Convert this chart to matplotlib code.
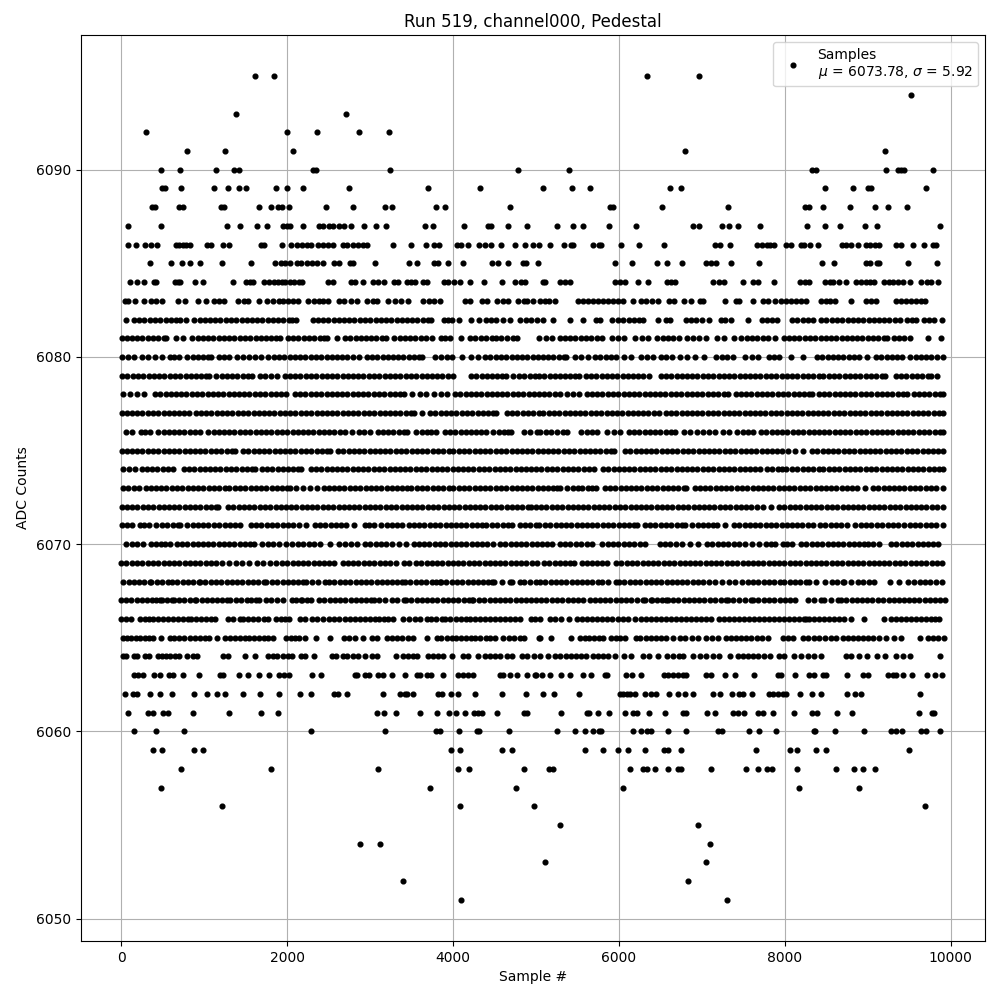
import matplotlib
matplotlib.use('Agg')
import matplotlib.pyplot as plt

# sample numbers, one list per ADC count
s6095 = [1614, 1843, 6337, 6963]
s6094 = [9515]
s6093 = [1384, 2712]
s6092 = [298, 2000, 2362, 2869, 3231]
s6091 = [793, 1251, 2072, 6794, 9202]
s6090 = [479, 708, 1143, 1360, 1420, 2314, 2346, 3243, 4777, 5398, 8323, 8375, 9214, 9362, 9398, 9434, 9791]
s6089 = [491, 527, 720, 1119, 1288, 1420, 1505, 1867, 2000, 2193, 2748, 3702, 4330, 5085, 5434, 5651, 6614, 6746, 8479, 8816, 8997, 9033, 9695]
s6088 = [370, 406, 696, 744, 1203, 1239, 1662, 1807, 1891, 1940, 2024, 2471, 2797, 3183, 3268, 3799, 3907, 4692, 5892, 5928, 6518, 7312, 8239, 8287, 8455, 8780, 9081, 9238, 9467]
s6087 = [80, 479, 1276, 1433, 1638, 1758, 1952, 2000, 2036, 2193, 2386, 2435, 2507, 2555, 2628, 2688, 2773, 2929, 3074, 3195, 3666, 3762, 4137, 4426, 4462, 4668, 4897, 5254, 5446, 5567, 5880, 6205, 6895, 6963, 7240, 7324, 7432, 7697, 8263, 8479, 8659, 8961, 9105, 9875]
s6086 = [80, 181, 286, 358, 431, 664, 700, 740, 785, 825, 1034, 1086, 1227, 1300, 1686, 1718, 1940, 2048, 2121, 2181, 2241, 2290, 2374, 2435, 2495, 2555, 2676, 2724, 2797, 2857, 2917, 2966, 3280, 3497, 3678, 3775, 3835, 4052, 4092, 4185, 4318, 4390, 4459, 4583, 4752, 4873, 4958, 5030, 5170, 5338, 5422, 5446, 5687, 5759, 5783, 6024, 6241, 6542, 7155, 7216, 7336, 7661, 7721, 7781, 7821, 7866, 8010, 8074, 8190, 8227, 8307, 8395, 8684, 8736, 8796, 8877, 8973, 9021, 9081, 9129, 9334, 9394, 9539, 9671, 9791, 9827]
s6085 = [342, 600, 732, 829, 950, 1215, 1565, 1855, 1928, 1976, 2036, 2121, 2169, 2241, 2302, 2362, 2435, 2563, 2628, 2760, 2797, 3062, 3473, 3569, 3775, 3823, 3944, 4125, 4475, 4547, 4668, 4837, 4885, 5018, 5952, 6156, 6457, 6578, 6758, 7047, 7107, 7167, 7348, 7685, 8443, 8588, 8973, 9021, 9105, 9129, 9478, 9839]
s6084 = [105, 189, 274, 394, 418, 648, 684, 708, 889, 986, 1348, 1505, 1553, 1590, 1722, 1783, 1843, 1891, 1940, 1976, 2036, 2084, 2145, 2181, 2495, 2555, 2773, 2821, 2917, 3038, 3098, 3171, 3292, 3340, 3449, 3497, 3545, 3642, 3690, 3895, 3944, 4016, 4088, 4209, 4378, 4595, 4752, 4813, 4873, 5085, 5109, 5290, 5350, 5410, 5952, 6012, 6072, 6229, 6349, 6578, 6626, 6674, 7131, 7204, 7264, 7492, 7612, 7673, 7866, 8178, 8239, 8287, 8479, 8540, 8576, 8648, 8732, 8852, 8913, 8973, 9021, 9069, 9189, 9250, 9298, 9358, 9418, 9502, 9635, 9707, 9767, 9851]
s6083 = [40, 80, 165, 274, 358, 419, 491, 684, 764, 926, 1022, 1118, 1179, 1239, 1408, 1481, 1529, 1662, 1759, 1831, 1903, 1952, 2012, 2072, 2133, 2253, 2326, 2386, 2435, 2495, 2628, 2688, 2773, 2845, 2958, 3038, 3086, 3219, 3300, 3372, 3461, 3642, 3714, 3775, 3847, 4149, 4209, 4354, 4414, 4535, 4607, 4668, 4788, 4849, 4897, 4958, 5045, 5105, 5157, 5230, 5507, 5567, 5627, 5687, 5747, 5807, 5868, 5928, 5988, 6048, 6168, 6269, 6329, 6401, 6469, 6602, 6658, 6782, 6867, 6979, 7011, 7276, 7412, 7452, 7613, 7741, 7793, 7882, 7954, 8014, 8074, 8134, 8195, 8255, 8435, 8495, 8548, 8608, 8800, 8977, 9037, 9097, 9338, 9398, 9458, 9519, 9579, 9639, 9687]
s6082 = [52, 153, 215, 280, 345, 405, 470, 535, 595, 660, 704, 785, 881, 945, 1005, 1070, 1130, 1195, 1260, 1320, 1385, 1450, 1510, 1575, 1640, 1700, 1765, 1830, 1890, 1955, 2020, 2060, 2105, 2306, 2370, 2430, 2495, 2560, 2620, 2685, 2750, 2810, 2875, 2940, 3000, 3065, 3130, 3190, 3255, 3320, 3380, 3445, 3510, 3570, 3635, 3700, 3730, 3887, 3940, 3992, 4072, 4217, 4314, 4398, 4460, 4515, 4600, 4684, 4809, 4880, 4945, 5010, 5081, 5206, 5406, 5567, 5719, 5767, 5920, 5985, 6050, 6115, 6175, 6240, 6289, 6469, 6570, 6618, 6802, 6865, 6930, 7000, 7091, 7232, 7280, 7352, 7553, 7725, 7790, 7845, 7902, 8086, 8150, 8215, 8275, 8335, 8439, 8500, 8565, 8630, 8690, 8755, 8820, 8880, 8945, 9010, 9070, 9135, 9200, 9260, 9325, 9386, 9470, 9530, 9578, 9671, 9735, 9800, 9888]
s6081 = [4, 65, 130, 195, 255, 320, 385, 445, 510, 539, 656, 740, 857, 920, 985, 1050, 1110, 1175, 1240, 1300, 1365, 1430, 1490, 1555, 1620, 1680, 1745, 1810, 1870, 1919, 2008, 2070, 2135, 2200, 2260, 2325, 2390, 2450, 2483, 2596, 2696, 2760, 2825, 2885, 2950, 3015, 3075, 3140, 3187, 3292, 3355, 3420, 3480, 3545, 3610, 3670, 3750, 3851, 3905, 3964, 4092, 4209, 4270, 4340, 4400, 4465, 4520, 4575, 4648, 4720, 4768, 5030, 5117, 5194, 5286, 5350, 5410, 5475, 5540, 5600, 5665, 5730, 5795, 5912, 5985, 6056, 6193, 6281, 6345, 6461, 6525, 6590, 6655, 6718, 6822, 6890, 6960, 7051, 7180, 7260, 7384, 7476, 7540, 7605, 7665, 7730, 7795, 7882, 7986, 8050, 8115, 8175, 8240, 8305, 8365, 8430, 8495, 8555, 8620, 8685, 8745, 8810, 8875, 8935, 9000, 9065, 9125, 9190, 9226, 9310, 9375, 9440, 9507, 9727, 9880]
s6080 = [12, 80, 149, 245, 325, 402, 495, 583, 640, 696, 797, 860, 925, 990, 1050, 1082, 1179, 1240, 1296, 1400, 1470, 1545, 1618, 1690, 1775, 1840, 1905, 1965, 2030, 2095, 2155, 2220, 2285, 2345, 2410, 2475, 2535, 2600, 2665, 2725, 2790, 2865, 2958, 3020, 3085, 3150, 3210, 3275, 3340, 3400, 3465, 3530, 3590, 3630, 3787, 3860, 3925, 3992, 4112, 4217, 4306, 4390, 4450, 4515, 4580, 4640, 4705, 4770, 4830, 4895, 4960, 5020, 5085, 5150, 5210, 5275, 5340, 5366, 5466, 5545, 5627, 5711, 5775, 5840, 5905, 5968, 6060, 6148, 6261, 6337, 6409, 6501, 6570, 6640, 6730, 6822, 6919, 7019, 7172, 7240, 7305, 7372, 7525, 7600, 7681, 7813, 7870, 7930, 8078, 8219, 8387, 8450, 8515, 8580, 8640, 8705, 8770, 8830, 8895, 8985, 9097, 9160, 9225, 9290, 9355, 9406, 9511, 9575, 9640, 9700, 9765, 9830, 9908]
s6079 = [12, 75, 140, 205, 265, 330, 395, 455, 520, 585, 645, 710, 775, 835, 900, 965, 1025, 1054, 1147, 1210, 1275, 1340, 1400, 1465, 1525, 1577, 1670, 1735, 1800, 1879, 1972, 2035, 2100, 2160, 2225, 2290, 2350, 2415, 2480, 2540, 2605, 2670, 2730, 2795, 2860, 2920, 2985, 3050, 3110, 3175, 3240, 3300, 3365, 3430, 3490, 3555, 3620, 3680, 3745, 3810, 3870, 3935, 4004, 4217, 4280, 4345, 4405, 4470, 4535, 4595, 4636, 4728, 4800, 4860, 4925, 4990, 5040, 5100, 5165, 5225, 5290, 5355, 5415, 5470, 5515, 5599, 5665, 5725, 5790, 5855, 5915, 5980, 6045, 6105, 6170, 6235, 6295, 6357, 6501, 6565, 6630, 6695, 6755, 6820, 6885, 6945, 7010, 7075, 7135, 7200, 7265, 7325, 7390, 7455, 7515, 7580, 7645, 7705, 7770, 7835, 7895, 7960, 8025, 8085, 8150, 8215, 8275, 8340, 8405, 8465, 8530, 8595, 8655, 8720, 8785, 8845, 8910, 8975, 9035, 9100, 9165, 9206, 9338, 9400, 9465, 9530, 9590, 9655, 9720, 9767, 9839]
s6078 = [20, 101, 185, 270, 406, 470, 535, 595, 660, 725, 785, 850, 915, 975, 1040, 1105, 1165, 1230, 1295, 1355, 1420, 1485, 1545, 1610, 1675, 1735, 1800, 1865, 1925, 1992, 2092, 2155, 2220, 2285, 2345, 2410, 2475, 2535, 2600, 2665, 2725, 2790, 2855, 2915, 2980, 3045, 3105, 3170, 3235, 3295, 3360, 3408, 3509, 3605, 3678, 3775, 3850, 3931, 4024, 4085, 4150, 4215, 4275, 4340, 4405, 4465, 4530, 4595, 4655, 4720, 4785, 4845, 4910, 4975, 5035, 5095, 5160, 5225, 5294, 5378, 5450, 5518, 5611, 5675, 5740, 5800, 5865, 5930, 5990, 6055, 6120, 6180, 6245, 6310, 6370, 6435, 6500, 6560, 6625, 6690, 6750, 6815, 6880, 6940, 7005, 7070, 7130, 7195, 7260, 7320, 7412, 7476, 7528, 7597, 7660, 7725, 7790, 7850, 7915, 7980, 8040, 8105, 8170, 8230, 8295, 8323, 8407, 8470, 8535, 8600, 8660, 8725, 8790, 8850, 8915, 8980, 9040, 9105, 9170, 9230, 9295, 9360, 9420, 9466, 9551, 9615, 9680, 9740, 9805, 9870, 9908]
s6077 = [4, 65, 130, 190, 255, 320, 380, 445, 510, 570, 635, 700, 760, 813, 897, 960, 1025, 1085, 1150, 1215, 1275, 1340, 1405, 1465, 1530, 1595, 1655, 1720, 1785, 1845, 1910, 1975, 2035, 2100, 2165, 2225, 2290, 2355, 2415, 2480, 2545, 2605, 2670, 2735, 2795, 2860, 2925, 2985, 3050, 3115, 3175, 3240, 3305, 3365, 3430, 3495, 3529, 3626, 3722, 3785, 3850, 3915, 3975, 4040, 4105, 4165, 4230, 4295, 4355, 4420, 4485, 4515, 4648, 4710, 4775, 4840, 4900, 4965, 5030, 5090, 5155, 5215, 5280, 5345, 5405, 5470, 5535, 5595, 5660, 5725, 5785, 5850, 5915, 5975, 6040, 6105, 6165, 6230, 6295, 6355, 6420, 6477, 6562, 6625, 6690, 6755, 6815, 6880, 6945, 7005, 7070, 7135, 7195, 7260, 7325, 7385, 7450, 7515, 7575, 7640, 7705, 7765, 7830, 7895, 7955, 8020, 8085, 8145, 8210, 8275, 8335, 8400, 8465, 8525, 8590, 8655, 8715, 8780, 8845, 8905, 8970, 9035, 9095, 9160, 9225, 9285, 9350, 9415, 9475, 9540, 9605, 9665, 9730, 9795, 9855, 9908]
s6076 = [52, 129, 233, 290, 342, 447, 510, 570, 635, 700, 760, 825, 890, 954, 1050, 1115, 1175, 1240, 1305, 1365, 1430, 1495, 1555, 1620, 1685, 1745, 1810, 1875, 1935, 2000, 2065, 2125, 2190, 2255, 2315, 2380, 2445, 2505, 2570, 2635, 2695, 2785, 2869, 2926, 2998, 3090, 3155, 3215, 3280, 3345, 3405, 3449, 3553, 3620, 3680, 3735, 3791, 3899, 3960, 4025, 4090, 4150, 4215, 4280, 4340, 4394, 4487, 4550, 4610, 4660, 4704, 4861, 4930, 5010, 5053, 5115, 5180, 5250, 5320, 5374, 5547, 5610, 5675, 5735, 5860, 5940, 6016, 6120, 6185, 6245, 6310, 6375, 6435, 6500, 6565, 6625, 6678, 6782, 6850, 6939, 7015, 7090, 7160, 7252, 7332, 7424, 7492, 7550, 7612, 7713, 7775, 7840, 7905, 7965, 8030, 8095, 8155, 8220, 8285, 8345, 8410, 8475, 8535, 8600, 8665, 8725, 8790, 8855, 8915, 8980, 9045, 9105, 9170, 9235, 9295, 9360, 9425, 9485, 9550, 9615, 9675, 9740, 9805, 9865, 9908]
s6075 = [4, 65, 130, 195, 255, 320, 385, 445, 510, 575, 635, 700, 765, 825, 890, 955, 1015, 1080, 1145, 1205, 1270, 1335, 1376, 1469, 1530, 1595, 1660, 1720, 1785, 1850, 1910, 1975, 2040, 2100, 2165, 2230, 2290, 2355, 2420, 2480, 2515, 2611, 2675, 2740, 2805, 2865, 2930, 2995, 3055, 3120, 3185, 3245, 3310, 3375, 3435, 3500, 3565, 3625, 3690, 3755, 3815, 3880, 3945, 4005, 4070, 4135, 4195, 4260, 4325, 4385, 4450, 4515, 4575, 4640, 4705, 4765, 4830, 4895, 4955, 5020, 5080, 5145, 5205, 5270, 5335, 5395, 5460, 5525, 5585, 5650, 5715, 5775, 5840, 5905, 5944, 6072, 6135, 6200, 6260, 6325, 6390, 6450, 6515, 6580, 6640, 6705, 6770, 6830, 6895, 6960, 7020, 7085, 7150, 7210, 7275, 7340, 7400, 7465, 7530, 7590, 7655, 7720, 7780, 7845, 7910, 7970, 8035, 8122, 8219, 8327, 8390, 8455, 8520, 8580, 8645, 8710, 8770, 8835, 8900, 8960, 9025, 9090, 9150, 9215, 9280, 9340, 9405, 9470, 9530, 9595, 9660, 9720, 9785, 9850, 9908]
s6074 = [20, 90, 165, 245, 310, 375, 435, 500, 560, 620, 753, 815, 880, 945, 1005, 1070, 1135, 1195, 1260, 1325, 1385, 1450, 1515, 1575, 1618, 1694, 1755, 1820, 1885, 1945, 2010, 2075, 2130, 2169, 2282, 2345, 2410, 2475, 2535, 2600, 2665, 2725, 2790, 2855, 2915, 2980, 3045, 3105, 3170, 3235, 3295, 3360, 3425, 3485, 3550, 3615, 3675, 3740, 3805, 3865, 3930, 3995, 4055, 4120, 4185, 4245, 4310, 4375, 4435, 4500, 4565, 4625, 4690, 4755, 4815, 4880, 4945, 5005, 5065, 5130, 5195, 5255, 5320, 5385, 5445, 5510, 5575, 5635, 5700, 5807, 5870, 5935, 5995, 6060, 6125, 6185, 6250, 6315, 6375, 6440, 6505, 6565, 6630, 6695, 6755, 6820, 6885, 6945, 7010, 7075, 7135, 7200, 7265, 7325, 7390, 7455, 7515, 7580, 7645, 7701, 7785, 7842, 7918, 7965, 8014, 8086, 8150, 8215, 8275, 8340, 8405, 8465, 8530, 8595, 8655, 8720, 8785, 8845, 8910, 8975, 9035, 9100, 9165, 9225, 9290, 9355, 9415, 9480, 9545, 9605, 9670, 9735, 9795, 9860, 9908]
s6073 = [24, 85, 150, 217, 294, 355, 420, 485, 545, 610, 675, 735, 800, 865, 925, 990, 1055, 1115, 1180, 1245, 1305, 1370, 1435, 1495, 1560, 1625, 1685, 1750, 1815, 1875, 1940, 2000, 2040, 2105, 2197, 2280, 2362, 2439, 2500, 2565, 2630, 2690, 2755, 2820, 2880, 2945, 3010, 3070, 3135, 3200, 3260, 3325, 3390, 3450, 3489, 3565, 3625, 3690, 3755, 3815, 3880, 3945, 4005, 4070, 4135, 4195, 4260, 4325, 4385, 4450, 4515, 4575, 4640, 4705, 4765, 4830, 4895, 4955, 5020, 5080, 5145, 5205, 5250, 5294, 5378, 5440, 5500, 5560, 5625, 5680, 5727, 5828, 5890, 5955, 6020, 6080, 6145, 6210, 6270, 6335, 6400, 6460, 6525, 6590, 6650, 6715, 6780, 6810, 6911, 6975, 7040, 7100, 7165, 7230, 7290, 7355, 7420, 7480, 7545, 7610, 7670, 7735, 7800, 7860, 7925, 7990, 8050, 8115, 8180, 8240, 8305, 8370, 8430, 8495, 8560, 8620, 8685, 8750, 8810, 8875, 8965, 9061, 9125, 9190, 9250, 9315, 9380, 9440, 9505, 9570, 9630, 9695, 9760, 9820, 9908]
s6072 = [4, 68, 130, 195, 260, 320, 385, 450, 510, 575, 640, 700, 765, 830, 890, 955, 1020, 1085, 1145, 1167, 1288, 1350, 1415, 1480, 1540, 1605, 1670, 1730, 1795, 1860, 1920, 1985, 2050, 2110, 2175, 2240, 2300, 2365, 2430, 2490, 2555, 2620, 2680, 2745, 2810, 2870, 2935, 3000, 3060, 3125, 3190, 3250, 3315, 3380, 3440, 3505, 3570, 3630, 3695, 3760, 3820, 3885, 3950, 4010, 4075, 4140, 4200, 4265, 4330, 4390, 4455, 4520, 4580, 4645, 4710, 4770, 4835, 4900, 4937, 4998, 5060, 5125, 5190, 5250, 5315, 5380, 5440, 5505, 5570, 5630, 5695, 5760, 5820, 5885, 5950, 6010, 6075, 6140, 6200, 6265, 6330, 6390, 6455, 6520, 6580, 6645, 6710, 6770, 6835, 6900, 6960, 7025, 7090, 7150, 7215, 7280, 7340, 7405, 7470, 7530, 7595, 7660, 7741, 7833, 7934, 7995, 8060, 8125, 8185, 8250, 8315, 8375, 8440, 8505, 8565, 8630, 8695, 8755, 8820, 8885, 8945, 9010, 9075, 9135, 9200, 9265, 9325, 9390, 9455, 9515, 9580, 9645, 9705, 9770, 9835, 9908]
s6071 = [4, 65, 129, 221, 280, 338, 423, 490, 555, 620, 680, 712, 797, 860, 925, 990, 1050, 1115, 1180, 1245, 1310, 1375, 1437, 1561, 1625, 1690, 1755, 1815, 1880, 1945, 2010, 2075, 2141, 2233, 2330, 2395, 2460, 2525, 2590, 2650, 2715, 2805, 2938, 2990, 3046, 3131, 3200, 3260, 3325, 3388, 3465, 3530, 3590, 3655, 3720, 3780, 3845, 3910, 3970, 4035, 4100, 4160, 4225, 4290, 4350, 4394, 4471, 4535, 4600, 4660, 4716, 4801, 4865, 4930, 4995, 5040, 5109, 5170, 5235, 5300, 5360, 5425, 5490, 5550, 5615, 5680, 5740, 5805, 5870, 5930, 5995, 6060, 6120, 6185, 6217, 6313, 6375, 6440, 6505, 6565, 6630, 6695, 6755, 6790, 6879, 6951, 7010, 7075, 7130, 7180, 7272, 7388, 7450, 7515, 7580, 7640, 7705, 7770, 7830, 7895, 7960, 8020, 8085, 8150, 8210, 8275, 8340, 8420, 8485, 8550, 8615, 8680, 8745, 8850, 8915, 8980, 9040, 9110, 9175, 9240, 9300, 9360, 9440, 9505, 9570, 9630, 9695, 9760, 9820, 9908]
s6070 = [60, 125, 195, 262, 354, 415, 480, 530, 583, 668, 730, 795, 860, 920, 985, 1050, 1110, 1175, 1240, 1300, 1365, 1430, 1490, 1555, 1598, 1702, 1765, 1835, 1899, 1992, 2060, 2130, 2195, 2260, 2322, 2394, 2519, 2628, 2700, 2770, 2845, 2938, 3000, 3065, 3130, 3195, 3265, 3348, 3432, 3525, 3590, 3655, 3715, 3780, 3845, 3905, 3970, 4035, 4095, 4160, 4225, 4285, 4350, 4414, 4487, 4567, 4630, 4695, 4760, 4820, 4885, 4950, 5010, 5070, 5130, 5194, 5286, 5350, 5415, 5480, 5545, 5610, 5675, 5800, 5865, 5930, 5990, 6055, 6120, 6185, 6250, 6317, 6489, 6555, 6620, 6690, 6758, 6855, 6951, 7063, 7125, 7190, 7255, 7320, 7385, 7450, 7520, 7601, 7685, 7773, 7830, 7882, 7974, 8030, 8082, 8198, 8260, 8325, 8390, 8450, 8515, 8580, 8640, 8705, 8770, 8830, 8895, 8955, 9005, 9065, 9137, 9282, 9345, 9410, 9475, 9535, 9600, 9665, 9725, 9790, 9840]
s6069 = [0, 62, 125, 190, 255, 318, 380, 445, 510, 572, 635, 700, 765, 828, 890, 955, 1020, 1085, 1145, 1210, 1295, 1388, 1460, 1537, 1634, 1710, 1790, 1871, 1935, 2000, 2065, 2125, 2190, 2255, 2320, 2380, 2445, 2505, 2563, 2668, 2730, 2795, 2860, 2925, 2990, 3050, 3115, 3180, 3245, 3308, 3412, 3469, 3553, 3615, 3680, 3745, 3810, 3870, 3935, 4000, 4060, 4125, 4190, 4250, 4315, 4380, 4440, 4505, 4570, 4630, 4695, 4760, 4820, 4885, 4950, 5010, 5097, 5160, 5225, 5290, 5350, 5405, 5454, 5551, 5615, 5680, 5740, 5800, 5856, 5968, 6030, 6095, 6160, 6220, 6285, 6350, 6410, 6475, 6540, 6600, 6665, 6730, 6790, 6855, 6920, 6980, 7045, 7110, 7170, 7235, 7300, 7360, 7425, 7490, 7550, 7615, 7680, 7740, 7805, 7870, 7930, 7995, 8060, 8120, 8185, 8250, 8310, 8375, 8440, 8500, 8565, 8630, 8690, 8755, 8820, 8880, 8945, 9010, 9070, 9135, 9200, 9260, 9325, 9390, 9450, 9515, 9580, 9640, 9705, 9770, 9830, 9888]
s6068 = [20, 89, 150, 215, 280, 342, 362, 430, 495, 563, 612, 675, 740, 805, 870, 938, 954, 1015, 1080, 1145, 1205, 1270, 1335, 1395, 1460, 1525, 1585, 1650, 1718, 1750, 1815, 1880, 1945, 2005, 2070, 2135, 2195, 2233, 2294, 2375, 2455, 2507, 2570, 2635, 2700, 2760, 2825, 2890, 2950, 3015, 3080, 3140, 3205, 3265, 3320, 3380, 3420, 3485, 3550, 3610, 3675, 3740, 3800, 3843, 3855, 3920, 3985, 4045, 4110, 4175, 4235, 4300, 4365, 4420, 4467, 4495, 4590, 4688, 4708, 4809, 4849, 4925, 5000, 5050, 5110, 5175, 5240, 5300, 5365, 5430, 5490, 5555, 5620, 5680, 5745, 5800, 5870, 5960, 6000, 6065, 6130, 6195, 6255, 6320, 6385, 6445, 6510, 6575, 6635, 6700, 6765, 6825, 6890, 6955, 7015, 7080, 7163, 7240, 7324, 7400, 7484, 7553, 7615, 7680, 7745, 7805, 7870, 7935, 7995, 8060, 8125, 8185, 8250, 8295, 8375, 8487, 8564, 8630, 8696, 8716, 8800, 8880, 8945, 9010, 9077, 9270, 9375, 9478, 9559, 9625, 9690, 9755, 9820, 9892]
s6067 = [2, 60, 122, 185, 248, 310, 372, 425, 471, 495, 555, 616, 632, 695, 760, 825, 885, 905, 968, 1030, 1095, 1160, 1220, 1276, 1316, 1380, 1445, 1510, 1570, 1622, 1662, 1750, 1807, 1880, 1952, 2064, 2110, 2161, 2185, 2240, 2290, 2386, 2450, 2512, 2575, 2640, 2700, 2765, 2830, 2890, 2950, 3006, 3046, 3110, 3185, 3259, 3320, 3408, 3432, 3495, 3560, 3620, 3685, 3750, 3810, 3875, 3940, 4000, 4065, 4130, 4190, 4225, 4245, 4310, 4375, 4440, 4500, 4565, 4630, 4690, 4755, 4820, 4880, 4945, 5000, 5060, 5125, 5190, 5250, 5315, 5380, 5440, 5505, 5570, 5647, 5707, 5770, 5835, 5895, 5960, 6025, 6085, 6150, 6215, 6289, 6309, 6389, 6401, 6460, 6515, 6570, 6590, 6650, 6715, 6780, 6840, 6905, 6970, 7030, 7095, 7160, 7225, 7292, 7312, 7380, 7450, 7520, 7593, 7613, 7680, 7745, 7810, 7870, 7935, 8000, 8060, 8126, 8275, 8355, 8435, 8475, 8555, 8636, 8676, 8740, 8805, 8865, 8930, 8995, 9055, 9117, 9185, 9250, 9315, 9375, 9440, 9500, 9559, 9619, 9685, 9750, 9810, 9870, 9932]
s6066 = [0, 60, 121, 229, 290, 335, 382, 443, 505, 560, 620, 680, 745, 805, 845, 905, 965, 1025, 1080, 1131, 1288, 1345, 1429, 1469, 1530, 1590, 1650, 1715, 1771, 1863, 1920, 1975, 2020, 2153, 2220, 2294, 2362, 2435, 2500, 2565, 2630, 2696, 2756, 2815, 2875, 2935, 2995, 3055, 3110, 3165, 3219, 3280, 3392, 3470, 3541, 3602, 3682, 3730, 3800, 3863, 3903, 3965, 4030, 4095, 4155, 4210, 4265, 4326, 4390, 4450, 4510, 4570, 4630, 4690, 4750, 4809, 4937, 4990, 5050, 5166, 5230, 5306, 5398, 5495, 5555, 5615, 5675, 5740, 5800, 5860, 5920, 5985, 6050, 6108, 6188, 6269, 6330, 6390, 6450, 6510, 6570, 6630, 6690, 6750, 6810, 6870, 6930, 6990, 7050, 7111, 7204, 7265, 7325, 7385, 7445, 7505, 7565, 7625, 7685, 7745, 7805, 7865, 7925, 7985, 8045, 8105, 8165, 8225, 8255, 8295, 8355, 8415, 8475, 8535, 8595, 8655, 8716, 8796, 8949, 9198, 9278, 9338, 9398, 9460, 9520, 9580, 9640, 9700, 9760, 9810, 9860]
s6065 = [20, 70, 118, 175, 230, 285, 340, 382, 479, 583, 640, 695, 760, 825, 885, 945, 1005, 1058, 1155, 1247, 1308, 1368, 1430, 1489, 1541, 1600, 1660, 1720, 1775, 1831, 1992, 2045, 2092, 2145, 2213, 2346, 2519, 2684, 2748, 2821, 2917, 3018, 3086, 3199, 3260, 3320, 3390, 3455, 3521, 3690, 3803, 3860, 3925, 3984, 4036, 4090, 4150, 4215, 4270, 4330, 4395, 4450, 4507, 4607, 4670, 4740, 4809, 4861, 5030, 5045, 5182, 5422, 5527, 5585, 5640, 5700, 5755, 5807, 5900, 5960, 6015, 6068, 6200, 6258, 6320, 6385, 6445, 6510, 6570, 6650, 6738, 6800, 6880, 6951, 7051, 7120, 7192, 7292, 7350, 7410, 7470, 7533, 7593, 7660, 7725, 7793, 7974, 8035, 8094, 8215, 8280, 8345, 8415, 8480, 8550, 8616, 8696, 8760, 8820, 8880, 8937, 8997, 9060, 9140, 9218, 9318, 9398, 9631, 9719, 9785, 9850, 9920]
s6064 = [20, 52, 149, 189, 282, 334, 443, 491, 543, 592, 644, 696, 793, 865, 913, 1227, 1288, 1493, 1614, 1771, 1831, 1879, 1952, 2012, 2060, 2169, 2217, 2322, 2543, 2587, 2676, 2724, 2797, 2857, 2938, 3018, 3078, 3316, 3400, 3461, 3521, 3569, 3702, 3762, 3823, 3883, 3992, 4125, 4185, 4306, 4386, 4447, 4507, 4567, 4648, 4708, 4829, 4889, 4970, 5053, 5145, 5226, 5294, 5366, 5426, 5486, 5547, 5607, 5687, 5747, 5807, 5868, 5948, 6060, 6148, 6289, 6361, 6469, 6578, 6650, 6722, 6770, 6891, 6971, 7051, 7131, 7204, 7336, 7432, 7492, 7553, 7613, 7673, 7745, 7821, 7934, 7994, 8114, 8195, 8275, 8355, 8435, 8732, 8796, 8897, 8985, 9105, 9210, 9338, 9418, 9511, 9864]
s6063 = [149, 201, 262, 394, 463, 576, 624, 744, 938, 1187, 1227, 1420, 1529, 1662, 1783, 1904, 1960, 2024, 2302, 2410, 2817, 2837, 2938, 2990, 3098, 3159, 3259, 3424, 3561, 3602, 3682, 3730, 3883, 4064, 4125, 4185, 4246, 4567, 4607, 4688, 4769, 4897, 4990, 5005, 5077, 5166, 5302, 5414, 5567, 5663, 5827, 5855, 6088, 6156, 6265, 6542, 6590, 6650, 6710, 6770, 6810, 7051, 7111, 7276, 7396, 7625, 7914, 7954, 8118, 8295, 8355, 8455, 8495, 8748, 8937, 8997, 9238, 9298, 9338, 9426, 9527, 9707, 9804, 9892]
s6062 = [44, 141, 189, 346, 467, 616, 877, 1034, 1155, 1251, 1469, 1674, 1903, 2157, 2290, 2567, 2615, 2724, 3155, 3360, 3420, 3449, 3521, 3823, 3863, 3972, 4064, 4270, 4587, 4885, 5085, 5218, 5519, 6008, 6048, 6096, 6128, 6197, 6309, 6389, 6441, 6602, 6710, 6790, 6891, 7131, 7216, 7360, 7452, 7492, 7605, 7805, 7854, 7914, 7974, 8014, 8179, 8323, 8431, 8744, 8840, 8913, 9623]
s6061 = [80, 322, 382, 503, 563, 865, 1300, 1686, 1891, 3086, 3171, 3308, 3605, 3811, 3948, 4040, 4149, 4257, 4306, 4350, 4535, 4849, 4897, 5298, 5611, 5639, 5747, 5880, 6076, 6168, 6217, 6361, 6554, 6770, 6810, 7055, 7163, 7372, 7432, 7512, 7673, 7733, 7854, 8106, 8323, 8383, 8624, 8804, 9611, 9771, 9803]
s6060 = [153, 418, 757, 2290, 3183, 3799, 3847, 4076, 4286, 4318, 4680, 5254, 5470, 5591, 5687, 5759, 5783, 6168, 6265, 6337, 6389, 6590, 6802, 7192, 7240, 7565, 7685, 7890, 8347, 8367, 8600, 8949, 9274, 9338, 9406, 9639, 9699, 9864]
s6059 = [382, 491, 877, 986, 3980, 4088, 4595, 4716, 5591, 5807, 5988, 6108, 6313, 6542, 6590, 6746, 7649, 8066, 8142, 8379, 8491, 9490]
s6058 = [720, 1807, 3098, 4064, 4197, 4861, 5157, 5206, 6132, 6289, 6337, 6433, 6590, 6710, 6750, 7107, 7529, 7673, 7781, 7842, 8142, 8612, 8828, 8937, 9081]
s6057 = [479, 3726, 4764, 6048, 8166, 8889]
s6056 = [1215, 4088, 4970, 9683]
s6055 = [5290, 6951]
s6054 = [2881, 3123, 7095]
s6053 = [5109, 7047]
s6052 = [3400, 6830]
s6051 = [4100, 7300]

levels = [6095, 6094, 6093, 6092, 6091, 6090, 6089, 6088, 6087, 6086, 6085, 6084, 6083, 6082, 6081, 6080,
          6079, 6078, 6077, 6076, 6075, 6074, 6073, 6072, 6071, 6070, 6069, 6068, 6067, 6066, 6065, 6064,
          6063, 6062, 6061, 6060, 6059, 6058, 6057, 6056, 6055, 6054, 6053, 6052, 6051]
rows = [s6095, s6094, s6093, s6092, s6091, s6090, s6089, s6088, s6087, s6086, s6085, s6084, s6083, s6082, s6081, s6080,
        s6079, s6078, s6077, s6076, s6075, s6074, s6073, s6072, s6071, s6070, s6069, s6068, s6067, s6066, s6065, s6064,
        s6063, s6062, s6061, s6060, s6059, s6058, s6057, s6056, s6055, s6054, s6053, s6052, s6051]

xs = []
ys = []
for level, row in zip(levels, rows):
    xs += row
    ys += [level] * len(row)

fig, ax = plt.subplots(figsize=(10, 10))
ax.plot(xs, ys, 'k.', markersize=6.8, label='Samples\n$\\mu$ = 6073.78, $\\sigma$ = 5.92')
ax.set_title('Run 519, channel000, Pedestal')
ax.set_xlabel('Sample #')
ax.set_ylabel('ADC Counts')
ax.set_xlim(-485, 10412)
ax.set_ylim(6048.8, 6097.2)
ax.grid(True)
ax.legend(loc='upper right')
fig.subplots_adjust(left=0.081, right=0.985, top=0.965, bottom=0.059)
fig.savefig('out.png', dpi=100)
